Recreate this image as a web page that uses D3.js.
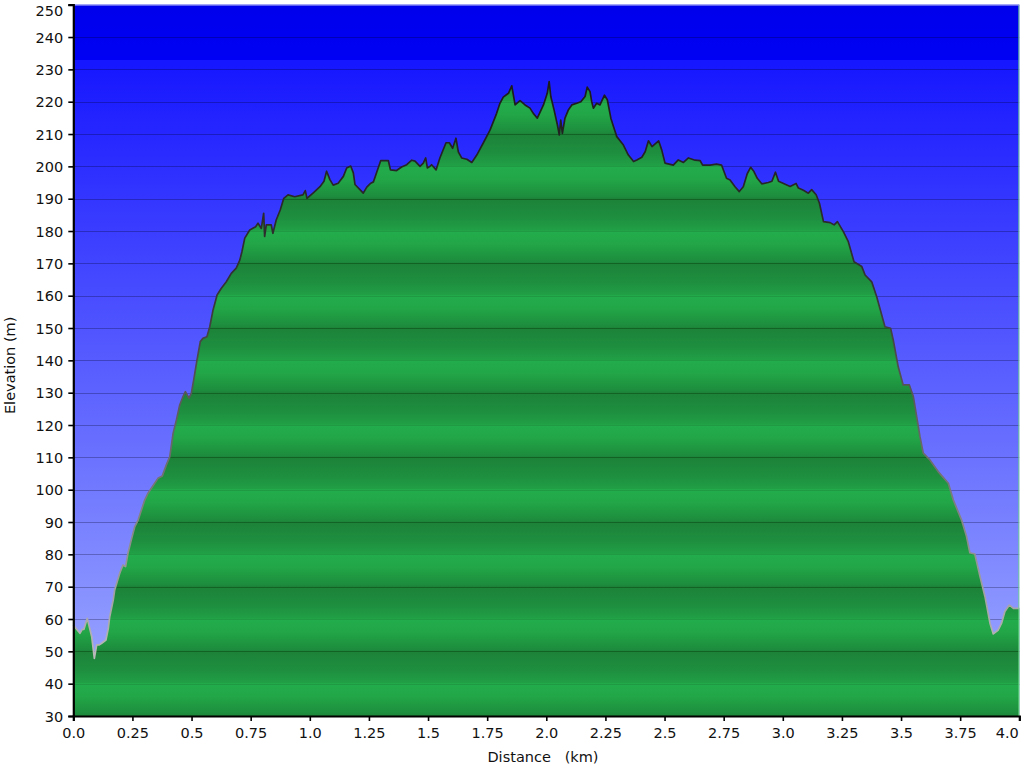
<!DOCTYPE html>
<html>
<head>
<meta charset="utf-8">
<script src="https://cdn.jsdelivr.net/npm/d3@7/dist/d3.min.js"></script>
<style>
html,body{margin:0;padding:0;background:#fff;}
svg{display:block;}
text{font-family:"DejaVu Sans",Verdana,sans-serif;fill:#111;}
</style>
</head>
<body>
<svg id="chart" width="1024" height="768"></svg>
<script>
// Elevation profile data (distance in km, elevation in m)
const distKm = [0.000,0.028,0.038,0.045,0.059,0.078,0.089,0.099,0.110,0.120,0.138,0.148,0.154,0.169,0.175,0.196,0.210,0.221,0.231,0.245,0.260,0.274,0.288,0.302,0.316,0.344,0.358,0.376,0.393,0.408,0.422,0.436,0.450,0.464,0.474,0.489,0.499,0.509,0.523,0.537,0.548,0.565,0.577,0.591,0.608,0.626,0.647,0.668,0.689,0.704,0.713,0.725,0.746,0.771,0.781,0.795,0.805,0.809,0.816,0.837,0.844,0.858,0.875,0.890,0.908,0.936,0.971,0.981,0.988,1.016,1.043,1.060,1.071,1.085,1.099,1.120,1.142,1.156,1.173,1.184,1.191,1.212,1.226,1.241,1.258,1.269,1.283,1.300,1.332,1.341,1.367,1.388,1.410,1.431,1.445,1.466,1.480,1.490,1.497,1.508,1.515,1.534,1.550,1.576,1.590,1.604,1.618,1.628,1.642,1.664,1.685,1.706,1.734,1.762,1.790,1.804,1.818,1.840,1.854,1.868,1.889,1.910,1.931,1.945,1.962,1.988,2.004,2.012,2.019,2.033,2.047,2.055,2.061,2.068,2.079,2.093,2.108,2.129,2.146,2.164,2.173,2.185,2.192,2.199,2.213,2.227,2.246,2.258,2.273,2.284,2.298,2.326,2.347,2.369,2.383,2.404,2.418,2.432,2.447,2.475,2.488,2.502,2.537,2.558,2.580,2.601,2.629,2.650,2.661,2.692,2.720,2.741,2.762,2.777,2.798,2.816,2.833,2.850,2.864,2.878,2.892,2.911,2.939,2.954,2.969,2.982,3.003,3.031,3.056,3.066,3.087,3.108,3.122,3.141,3.155,3.172,3.200,3.217,3.231,3.256,3.277,3.301,3.334,3.348,3.376,3.397,3.432,3.456,3.467,3.488,3.509,3.535,3.552,3.566,3.580,3.594,3.622,3.657,3.700,3.721,3.756,3.777,3.791,3.812,3.834,3.855,3.876,3.890,3.911,3.925,3.939,3.958,3.975,4.000];
const elevM = [58.1,55.6,56.8,56.8,60.2,54.5,47.8,52.0,52.0,52.5,53.5,57.1,60.7,65.9,69.0,74.1,76.7,76.2,80.3,84.4,88.6,90.6,93.7,96.8,98.9,102.0,103.5,104.2,107.6,110.2,117.4,121.6,126.2,128.8,130.3,128.3,129.8,133.9,140.1,145.8,146.8,147.3,150.4,155.6,160.2,162.3,164.3,166.9,168.5,171.0,173.6,177.8,180.3,181.3,182.4,180.8,185.5,178.3,181.9,181.9,179.3,183.4,186.5,190.1,191.2,190.6,191.2,192.5,190.1,191.9,193.7,195.4,198.5,195.9,194.2,194.8,196.9,199.5,200.1,198.0,194.4,192.8,191.7,193.6,194.8,195.2,198.2,201.8,201.8,198.9,198.7,199.8,200.5,201.9,201.6,200.0,201.0,202.6,199.5,200.0,200.5,198.9,202.6,207.3,207.3,205.6,208.7,204.5,202.6,202.2,201.2,203.5,207.3,211.2,216.4,219.5,221.4,222.6,224.9,219.0,220.3,219.0,218.0,216.4,214.9,219.0,222.6,226.2,221.6,217.4,212.8,209.7,214.3,210.2,214.9,217.4,219.0,219.5,220.0,221.6,224.5,223.1,220.0,218.0,219.5,219.0,222.0,220.6,214.9,212.3,209.2,206.6,203.5,201.5,202.0,202.8,204.5,207.9,206.1,207.9,205.1,201.0,200.4,202.0,201.2,202.6,201.9,201.8,200.4,200.4,200.7,200.4,196.3,195.8,193.7,192.2,193.7,197.8,199.7,198.4,196.3,194.6,195.0,195.4,198.2,195.4,194.7,193.8,194.7,193.3,192.6,191.7,192.8,191.2,188.6,182.9,182.6,181.9,182.9,179.8,176.7,170.5,169.0,166.4,164.3,159.7,150.4,149.9,146.3,138.0,132.4,132.4,128.8,122.6,116.4,111.3,109.2,105.6,102.0,96.8,90.6,85.5,80.5,80.1,73.1,66.9,58.7,55.4,56.6,58.7,62.3,64.3,63.3,63.3];
const xTicks = [0,0.25,0.5,0.75,1.0,1.25,1.5,1.75,2.0,2.25,2.5,2.75,3.0,3.25,3.5,3.75,4.0];
const xTickLabels = ["0.0","0.25","0.5","0.75","1.0","1.25","1.5","1.75","2.0","2.25","2.5","2.75","3.0","3.25","3.5","3.75","4.0"];
const yTicks = [30,40,50,60,70,80,90,100,110,120,130,140,150,160,170,180,190,200,210,220,230,240,250];
const xTitle = "Distance\u00a0\u00a0\u00a0(km)";
const yTitle = "Elevation (m)";

const data = distKm.map((d,i)=>({d:d,e:elevM[i]}));

const W = 1024, H = 768;
const m = {left:73.3, right:4.7, top:4.7, bottom:52};
const svg = d3.select("#chart");
const x = d3.scaleLinear().domain([0,4]).range([m.left, W-m.right]);
const y = d3.scaleLinear().domain([30,250]).range([H-m.bottom, m.top]);

const defs = svg.append("defs");
// sky gradient
const sky = defs.append("linearGradient").attr("id","sky")
  .attr("gradientUnits","userSpaceOnUse").attr("x1",0).attr("x2",0)
  .attr("y1",y(250)).attr("y2",y(30));
const skyStops = [[0,"#0000ec"],[(250-233)/220,"#0000f4"],[(250-233)/220+0.001,"#1616ff"],[1,"#a2aeff"]];
skyStops.forEach(s=>sky.append("stop").attr("offset",s[0]).attr("stop-color",s[1]));

// green banded gradient (period 20 m)
const grn = defs.append("linearGradient").attr("id","grn")
  .attr("gradientUnits","userSpaceOnUse").attr("x1",0).attr("x2",0)
  .attr("y1",y(170)).attr("y2",y(150)).attr("spreadMethod","repeat");
[[0,"#1c8238"],[0.3,"#1e8f3f"],[0.49,"#21a046"],[0.5,"#23ad4c"],[0.7,"#22a647"],[0.97,"#1d8c3d"],[1,"#1c8238"]]
  .forEach(s=>grn.append("stop").attr("offset",s[0]).attr("stop-color",s[1]));

// stroke gradient
const sg = defs.append("linearGradient").attr("id","strk")
  .attr("gradientUnits","userSpaceOnUse").attr("x1",0).attr("x2",0)
  .attr("y1",y(230)).attr("y2",y(40));
[[0,"#1a1a1a"],[0.35,"#333"],[0.65,"#707070"],[1,"#c4c4c4"]]
  .forEach(s=>sg.append("stop").attr("offset",s[0]).attr("stop-color",s[1]));

// background
svg.append("rect").attr("x",x(0)).attr("y",y(250)).attr("width",x(4)-x(0)).attr("height",y(30)-y(250))
  .attr("fill","url(#sky)");

// gridlines on sky
svg.append("g").selectAll("line").data(yTicks.filter(t=>t>30&&t<250)).join("line")
  .attr("x1",x(0)).attr("x2",x(4)).attr("y1",d=>Math.round(y(d))+0.5).attr("y2",d=>Math.round(y(d))+0.5)
  .attr("stroke","rgba(0,0,30,0.28)").attr("stroke-width",1);

const area = d3.area().x(p=>x(p.d)).y0(y(30)).y1(p=>y(p.e));
const line = d3.line().x(p=>x(p.d)).y(p=>y(p.e));

defs.append("clipPath").attr("id","areaclip").append("path").attr("d",area(data));

svg.append("path").attr("d",area(data)).attr("fill","url(#grn)");

// gridlines on green
const gg = svg.append("g").attr("clip-path","url(#areaclip)");
gg.selectAll("line").data(yTicks.filter(t=>t>30&&t<250)).join("line")
  .attr("x1",x(0)).attr("x2",x(4)).attr("y1",d=>Math.round(y(d))+0.5).attr("y2",d=>Math.round(y(d))+0.5)
  .attr("stroke",d=>(d%20===10)?"rgba(0,40,0,0.35)":"rgba(20,70,30,0.18)").attr("stroke-width",1);

svg.append("path").attr("d",line(data)).attr("fill","none")
  .attr("stroke","url(#strk)").attr("stroke-width",1.7).attr("stroke-linejoin","round");

// right edge light green line and top edge
svg.append("line").attr("x1",x(4)-0.5).attr("x2",x(4)-0.5).attr("y1",y(250)).attr("y2",y(30))
  .attr("stroke","rgba(110,215,140,0.85)").attr("stroke-width",1);
svg.append("line").attr("x1",x(0)).attr("x2",x(4)).attr("y1",y(250)+0.5).attr("y2",y(250)+0.5)
  .attr("stroke","#8c8cf4").attr("stroke-width",1);

// axes
const yAxis = d3.axisLeft(y).tickValues(yTicks).tickSize(5).tickPadding(5).tickFormat(d3.format("d"));
const ya = svg.append("g").attr("transform",`translate(${x(0)},0)`).call(yAxis);
const xAxis = d3.axisBottom(x).tickValues(xTicks).tickSize(5).tickPadding(5).tickFormat((d,i)=>xTickLabels[i]);
const xa = svg.append("g").attr("transform",`translate(0,${y(30)})`).call(xAxis);
[ya,xa].forEach(a=>{
  a.select(".domain").attr("stroke","#000").attr("stroke-width",2.2);
  a.selectAll(".tick line").attr("stroke","#000").attr("stroke-width",1.6);
  a.selectAll(".tick text").attr("font-family","DejaVu Sans, Verdana, sans-serif").attr("font-size",14.5).attr("fill","#111");
});
ya.selectAll(".tick text").attr("dy",d=>d===250?"0.72em":"0.36em");
xa.selectAll(".tick text").attr("dy","0.8em")
  .attr("text-anchor",d=>d===4?"end":"middle").attr("dx",d=>d===4?"-1":"0");

svg.append("text").attr("x",543).attr("y",762).attr("text-anchor","middle")
  .attr("font-size",14.5).text(xTitle);
svg.append("text").attr("transform",`translate(15,${(y(30)+y(250))/2+5}) rotate(-90)`)
  .attr("text-anchor","middle").attr("font-size",14.5).text(yTitle);
</script>
</body>
</html>
